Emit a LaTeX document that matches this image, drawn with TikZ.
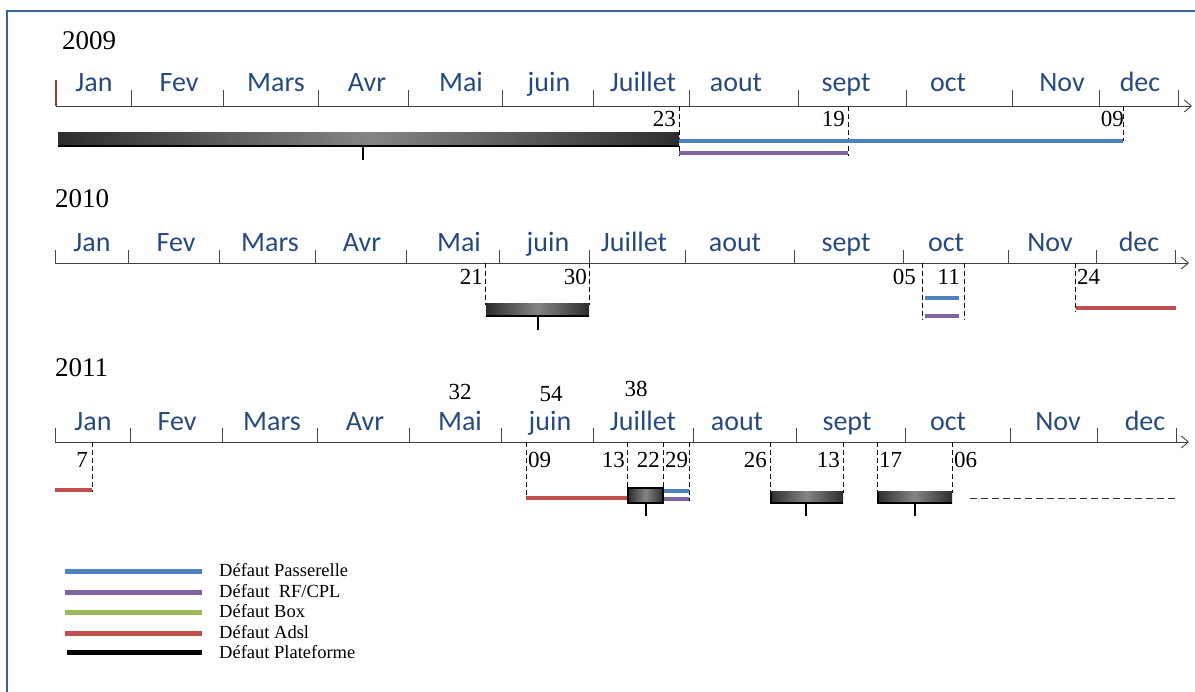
\documentclass[tikz,border=0pt]{standalone}
\usepackage{fontspec}
\setmainfont{Liberation Serif}
\newfontfamily\monthfont{Carlito}
\usetikzlibrary{arrows.meta}

\definecolor{frameblue}{RGB}{59,100,150}
\definecolor{monthblue}{RGB}{38,74,128}
\definecolor{passerelle}{RGB}{79,129,189}
\definecolor{rfcpl}{RGB}{128,100,162}
\definecolor{boxgreen}{RGB}{155,187,89}
\definecolor{adsl}{RGB}{192,80,77}
\definecolor{tickgray}{RGB}{70,70,70}
\definecolor{starttick}{RGB}{150,60,55}

% dark ends, lighter centre
\pgfdeclarehorizontalshading{fadebar}{100bp}{color(0bp)=(black); color(18bp)=(black!92); color(50bp)=(black!48); color(82bp)=(black!92); color(100bp)=(black)}

\tikzset{
  axisline/.style={draw=black!75, line width=0.9pt, -{Straight Barb[length=7pt,width=12pt]}},
  monthtick/.style={draw=tickgray, line width=1pt},
  month/.style={font=\monthfont\fontsize{28}{28}\selectfont, text=monthblue, inner sep=0pt, anchor=base},
  yearlabel/.style={font=\fontsize{27}{27}\selectfont, inner sep=0pt, anchor=base west},
  daylabel/.style={font=\fontsize{23}{23}\selectfont, inner sep=0pt},
  countlabel/.style={font=\fontsize{23}{23}\selectfont, inner sep=0pt, anchor=base},
  guide/.style={draw=black, dash pattern=on 5pt off 3pt, line width=0.7pt},
  faultline/.style={line width=4pt},
  platbar/.style={shading=fadebar},
  stem/.style={draw=black, line width=2.5pt},
  legendline/.style={line width=5pt},
  legendtext/.style={font=\fontsize{18.5}{18.5}\selectfont, inner sep=0pt, anchor=west},
}

\begin{document}
\begin{tikzpicture}[x=1pt, y=-1pt]
\useasboundingbox (0,0) rectangle (1195,692);

% frame
\draw[frameblue, line width=2.5pt] (7,700) -- (7,11) -- (1200,11);

% ---------------- 2009 ----------------
\node[yearlabel] (y2009) at (62,50) {2009};
\coordinate (a09s) at (56,106);
\coordinate (a09e) at (1192,106);
\draw[axisline] (a09s) -- (a09e);
\draw[draw=starttick, line width=1.2pt] (56,106) -- (56,80);
\foreach \x in {131,223,318,408,502,593,689,798,906,1012,1099,1178}
  \draw[monthtick] (\x,106) -- (\x,90);
\foreach \n/\x in {Jan/94,Fev/179,Mars/276,Avr/367,Mai/461,juin/549,Juillet/643,aout/736,sept/846,oct/948,Nov/1062,dec/1140}
  \node[month] (m09\n) at (\x,92) {\n};

\node[daylabel, anchor=base east] (d09a) at (676,127) {23};
\node[daylabel, anchor=base east] (d09b) at (845,127) {19};
\node[daylabel, anchor=base east] (d09c) at (1124,127) {09};
\draw[guide] (679,106) -- (679,156);
\draw[guide] (848,106) -- (848,156);
\draw[guide] (1123,106) -- (1123,141);

\shade[platbar] (58,133) rectangle (679,147);
\draw[black, line width=2pt] (58,146) -- (679,146);
\draw[stem] (363,147) -- (363,160);
\draw[faultline, passerelle] (679,141) -- (1123,141);
\draw[faultline, rfcpl] (679,153) -- (848,153);

% ---------------- 2010 ----------------
\node[yearlabel] (y2010) at (55,208) {2010};
\coordinate (a10s) at (55,263);
\coordinate (a10e) at (1189,263);
\draw[axisline] (a10s) -- (a10e);
\foreach \x in {55,128,219,315,406,499,589,685,794,903,1008,1096,1175}
  \draw[monthtick] (\x,263) -- (\x,250);
\foreach \n/\x in {Jan/92,Fev/176,Mars/270,Avr/362,Mai/459,juin/548,Juillet/634,aout/735,sept/846,oct/946,Nov/1050,dec/1139}
  \node[month] (m10\n) at (\x,252) {\n};

\node[daylabel, anchor=base east] (d10a) at (483,285) {21};
\node[daylabel, anchor=base east] (d10b) at (587,285) {30};
\node[daylabel, anchor=base east] (d10c) at (916,285) {05};
\node[daylabel, anchor=base east] (d10d) at (960,285) {11};
\node[daylabel, anchor=base west] (d10e) at (1077,285) {24};
\draw[guide] (485,263) -- (485,305);
\draw[guide] (589,263) -- (589,305);
\draw[guide] (922,263) -- (922,320);
\draw[guide] (964,263) -- (964,320);
\draw[guide] (1075,263) -- (1075,312);

\shade[platbar] (486,304) rectangle (589,317);
\draw[black, line width=2pt] (486,316) -- (589,316);
\draw[stem] (538,317) -- (538,330);
\draw[faultline, passerelle] (925,298) -- (959,298);
\draw[faultline, rfcpl] (925,316) -- (959,316);
\draw[faultline, adsl] (1076,308) -- (1176,308);

% ---------------- 2011 ----------------
\node[yearlabel] (y2011) at (55,377) {2011};
\coordinate (a11s) at (55,442);
\coordinate (a11e) at (1189,442);
\draw[axisline] (a11s) -- (a11e);
\foreach \x in {55,130,222,317,409,501,593,693,796,905,1010,1097,1176}
  \draw[monthtick] (\x,442) -- (\x,428);
\foreach \n/\x in {Jan/93,Fev/177,Mars/272,Avr/365,Mai/460,juin/550,Juillet/643,aout/737,sept/847,oct/948,Nov/1058,dec/1145}
  \node[month] (m11\n) at (\x,431) {\n};

\node[countlabel] (c11a) at (460,400) {32};
\node[countlabel] (c11b) at (551,402) {54};
\node[countlabel] (c11c) at (636,397) {38};

\node[daylabel, anchor=base east] (d11a) at (88,468) {7};
\node[daylabel, anchor=base west] (d11b) at (528,468) {09};
\node[daylabel, anchor=base east] (d11c) at (625,468) {13};
\node[daylabel, anchor=base east] (d11d) at (660,468) {22};
\node[daylabel, anchor=base west] (d11e) at (665,468) {29};
\node[daylabel, anchor=base east] (d11f) at (767,468) {26};
\node[daylabel, anchor=base east] (d11g) at (840,468) {13};
\node[daylabel, anchor=base west] (d11h) at (879,468) {17};
\node[daylabel, anchor=base west] (d11i) at (954,468) {06};
\draw[guide] (92,442) -- (92,492);
\draw[guide] (526,442) -- (526,498);
\draw[guide] (627,442) -- (627,489);
\draw[guide] (663,442) -- (663,491);
\draw[guide] (689,442) -- (689,501);
\draw[guide] (770,442) -- (770,493);
\draw[guide] (843,442) -- (843,493);
\draw[guide] (877,442) -- (877,493);
\draw[guide] (952,442) -- (952,493);

\draw[faultline, adsl] (55,490) -- (92,490);
\draw[faultline, adsl] (526,498) -- (628,498);
\shade[platbar] (628,488) rectangle (663,503);
\draw[black, line width=2.5pt] (628,488) rectangle (663,503);
\draw[stem] (646,503) -- (646,516);
\draw[faultline, line width=3.5pt, passerelle] (664,491) -- (689,491);
\draw[faultline, line width=3.5pt, rfcpl] (664,499) -- (689,499);

\shade[platbar] (770,492) rectangle (843,504);
\draw[black, line width=2pt] (770,503) -- (843,503);
\draw[black, line width=2pt] (771,492) -- (771,504);
\draw[stem] (806,504) -- (806,516);
\shade[platbar] (877,492) rectangle (952,504);
\draw[black, line width=2pt] (877,503) -- (952,503);
\draw[black, line width=2pt] (878,492) -- (878,504);
\draw[stem] (915,504) -- (915,516);

\draw[draw=black!80, dash pattern=on 7pt off 4pt, line width=1pt] (970,499) -- (1178,499);

% ---------------- legend ----------------
\draw[legendline, passerelle] (65,571) -- (202,571);
\draw[legendline, rfcpl] (65,592) -- (202,592);
\draw[legendline, boxgreen] (65,612) -- (202,612);
\draw[legendline, adsl] (65,633) -- (202,633);
\draw[legendline, black] (67,652) -- (202,652);
\node[legendtext] (l1) at (219,570) {Défaut Passerelle};
\node[legendtext] (l2) at (219,591) {Défaut~ RF/CPL};
\node[legendtext] (l3) at (219,611) {Défaut Box};
\node[legendtext] (l4) at (219,632) {Défaut Adsl};
\node[legendtext] (l5) at (219,652) {Défaut Plateforme};
\end{tikzpicture}
\end{document}
